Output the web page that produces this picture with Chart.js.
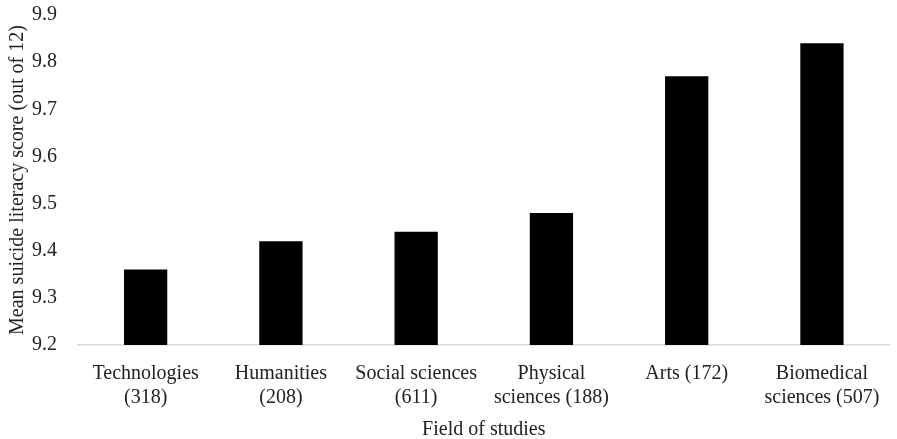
<!DOCTYPE html>
<html><head><meta charset="utf-8">
<script src="https://cdn.jsdelivr.net/npm/chart.js@4"></script>
<style>html,body{margin:0;padding:0;background:#fff;overflow:hidden}#wrap{width:897px;height:457px;margin-top:-18px}</style>
</head><body><div id="wrap"><canvas id="c"></canvas></div>
<script>
const categories = [["Technologies","(318)"],["Humanities","(208)"],["Social sciences","(611)"],["Physical","sciences (188)"],["Arts (172)"],["Biomedical","sciences (507)"]];
const scores = [9.36, 9.42, 9.44, 9.48, 9.77, 9.84];
const yMin = 9.2, yMax = 9.9, yStep = 0.1;
const font = "'Liberation Serif', 'DejaVu Serif', serif";
new Chart(document.getElementById('c'), {
  type: 'bar',
  data: { labels: categories, datasets: [{ data: scores, backgroundColor: '#000', barPercentage: 0.32, categoryPercentage: 1 }] },
  options: {
    responsive: true, maintainAspectRatio: false, animation: false, devicePixelRatio: 1,
    layout: { padding: { top: 0, right: 7, left: 0, bottom: -3 } },
    plugins: { legend: { display: false }, tooltip: { enabled: false } },
    scales: {
      x: {
        grid: { display: false, drawTicks: false },
        border: { color: '#d9d9d9', width: 1.5 },
        ticks: { color: '#222', font: { family: font, size: 20, lineHeight: 1.2 }, maxRotation: 0, padding: 17 },
        title: { display: true, text: 'Field of studies', color: '#222', font: { family: font, size: 20 }, padding: { top: -9, bottom: 0 } }
      },
      y: {
        min: yMin, max: yMax,
        grid: { display: false, drawTicks: false },
        border: { display: false },
        afterFit: s => { s.width = 78; },
        ticks: { stepSize: yStep, color: '#222', font: { family: font, size: 20 }, padding: 21, callback: v => Number(v).toFixed(1) },
        title: { display: true, text: 'Mean suicide literacy score (out of 12)', color: '#222', font: { family: font, size: 20 }, padding: { top: 6, bottom: 0 } }
      }
    }
  }
});
</script></body></html>
